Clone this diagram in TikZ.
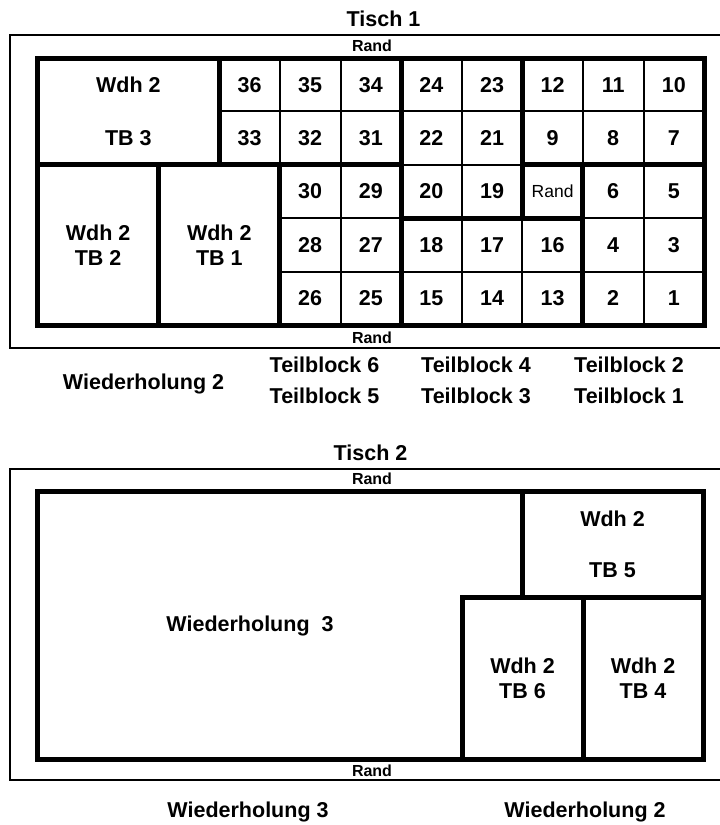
\documentclass[tikz,border=0pt]{standalone}
\usepackage{fontspec}
\setmainfont{Liberation Sans}
\usetikzlibrary{positioning}

\begin{document}
\begin{tikzpicture}[x=1pt, y=-1pt,
		frame/.style={line width=2.5pt},
		thickline/.style={line width=5pt, line cap=rect},
		thinline/.style={line width=2pt},
		num/.style={font=\fontsize{21.5}{25}\selectfont\bfseries, inner sep=0pt, align=center},
		lbl/.style={font=\fontsize{21.5}{25}\selectfont\bfseries, inner sep=0pt, anchor=base},
		randlbl/.style={font=\fontsize{16}{18}\selectfont\bfseries, inner sep=0pt, anchor=base}]
		\useasboundingbox (0,0) rectangle (720,825);
		
		% ===== Tisch 1 =====
		\node[lbl] (tisch1) at (383.5,26) {Tisch 1};
		\draw[frame] (725,35) -- (10,35) -- (10,348) -- (725,348);
		\node[randlbl] (rand1o) at (372,51) {Rand};
		\node[randlbl] (rand1u) at (372,343) {Rand};
		
		% Raster: 11 Spalten x 5 Reihen
		\begin{scope}[shift={(37.5pt,-58pt)}, x=60.6pt, y=-53.4pt]
			% duenne Linien
			\foreach \c in {5,...,10} \draw[thinline] (\c,0) -- (\c,5);
			\draw[thinline] (4,0) -- (4,2);
			\foreach \r in {1,2} \draw[thinline] (3,\r) -- (11,\r);
			\foreach \r in {3,4} \draw[thinline] (4,\r) -- (11,\r);
			
			% dicke Linien (Teilbloecke)
			\draw[thickline] (0,0) rectangle (11,5);
			\draw[thickline] (3,0) -- (3,2);
			\draw[thickline] (0,2) -- (6,2);
			\draw[thickline] (2,2) -- (2,5);
			\draw[thickline] (4,2) -- (4,5);
			\draw[thickline] (6,0) -- (6,5);
			\draw[thickline] (8,0) -- (8,3);
			\draw[thickline] (8,2) -- (11,2);
			\draw[thickline] (6,3) -- (9,3);
			\draw[thickline] (9,2) -- (9,5);
			
			% Wiederholung 2 links
			\node[num] (tb3) at (1.5,1) {Wdh 2\\[28pt]TB 3};
			\node[num] (tb2) at (1,3.5) {Wdh 2\\TB 2};
			\node[num] (tb1) at (3,3.5) {Wdh 2\\TB 1};
			
			% Parzellen
			\foreach \n [count=\i from 3] in {36,35,34,24,23,12,11,10}
				\node[num] (n\n) at (\i+0.5,0.5) {\n};
			\foreach \n [count=\i from 3] in {33,32,31,22,21,9,8,7}
				\node[num] (n\n) at (\i+0.5,1.5) {\n};
			\foreach \n [count=\i from 4] in {30,29,20,19}
				\node[num] (n\n) at (\i+0.5,2.5) {\n};
			\node[inner sep=0pt, font=\fontsize{17.5}{20}\selectfont] (randzelle) at (8.5,2.5) {Rand};
			\foreach \n [count=\i from 9] in {6,5}
				\node[num] (n\n) at (\i+0.5,2.5) {\n};
			\foreach \n [count=\i from 4] in {28,27,18,17,16,4,3}
				\node[num] (n\n) at (\i+0.5,3.5) {\n};
			\foreach \n [count=\i from 4] in {26,25,15,14,13,2,1}
				\node[num] (n\n) at (\i+0.5,4.5) {\n};
		\end{scope}
		
		% Beschriftung unter Tisch 1
		\node[lbl] (wdh2a) at (143.5,389) {Wiederholung 2};
		\node[lbl] (tbl6) at (324.5,372) {Teilblock 6};
		\node[lbl] (tbl5) at (324.5,403) {Teilblock 5};
		\node[lbl] (tbl4) at (476,372) {Teilblock 4};
		\node[lbl] (tbl3) at (476,403) {Teilblock 3};
		\node[lbl] (tbl2) at (629,372) {Teilblock 2};
		\node[lbl] (tbl1) at (629,403) {Teilblock 1};
		
		% ===== Tisch 2 =====
		\node[lbl] (tisch2) at (370.5,460) {Tisch 2};
		\draw[frame] (725,469) -- (10,469) -- (10,780) -- (725,780);
		\node[randlbl] (rand2o) at (372,484) {Rand};
		\node[randlbl] (rand2u) at (372,776) {Rand};
		
		\draw[thickline] (37.5,491) rectangle (703.5,759);
		\draw[thickline] (522,491) -- (522,597);
		\draw[thickline] (462,597) -- (703.5,597);
		\draw[thickline] (462,597) -- (462,759);
		\draw[thickline] (583,597) -- (583,759);
		
		\node[lbl] (wdh3) at (250,631) {Wiederholung~~3};
		\node[num] (tb5) at (612.5,544) {Wdh 2\\[26pt]TB 5};
		\node[num] (tb6) at (522.5,678) {Wdh 2\\TB 6};
		\node[num] (tb4) at (643,678) {Wdh 2\\TB 4};
		
		% Beschriftung unter Tisch 2
		\node[lbl] (wdh3u) at (248,817) {Wiederholung 3};
		\node[lbl] (wdh2u) at (585,817) {Wiederholung 2};
		
	\end{tikzpicture}
\end{document}
